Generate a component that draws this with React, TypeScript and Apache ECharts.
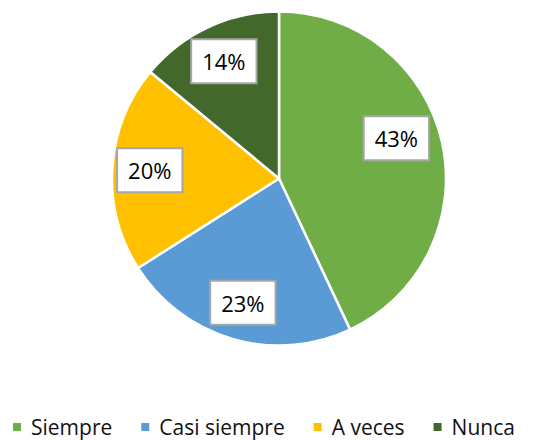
import React, { useEffect, useRef } from "react";
import * as echarts from "echarts";

const categories = ["Siempre", "Casi siempre", "A veces", "Nunca"];
const values = [43, 23, 20, 14];
const colors = ["#70AD47", "#5B9BD5", "#FFC000", "#43682B"];

export default function App() {
  const ref = useRef<HTMLDivElement>(null);
  useEffect(() => {
    document.body.style.margin = "0";
    if (!ref.current) return;
    const chart = echarts.init(ref.current, null, { renderer: "svg" });
    const font = "'Open Sans', 'Noto Sans', sans-serif";
    const data = categories.map((name, i) => ({
      name,
      value: values[i],
      itemStyle: { color: colors[i] },
    }));
    const labelData = categories.map((name, i) => ({
      name,
      value: values[i],
      label: i === 0 ? { offset: [-9, -12] } : {},
    }));
    chart.setOption({
      animation: false,
      color: colors,
      legend: {
        data: categories,
        left: 11,
        top: 416,
        padding: 0,
        icon: "rect",
        itemWidth: 10,
        itemHeight: 10,
        itemGap: 27,
        textStyle: {
          fontFamily: font,
          fontSize: 21,
          color: "#111",
          lineHeight: 22,
          padding: [0, 0, 0, 4],
        },
      },
      series: [
        {
          type: "pie",
          center: [279, 178.5],
          radius: [0, 167],
          startAngle: 90,
          clockwise: true,
          data,
          label: { show: false },
          labelLine: { show: false },
          itemStyle: { borderColor: "#fff", borderWidth: 2.5 },
          emphasis: { disabled: true },
        },
        {
          type: "pie",
          center: [279, 178.5],
          radius: [86, 167],
          startAngle: 90,
          clockwise: true,
          silent: true,
          data: labelData,
          itemStyle: { color: "rgba(0,0,0,0)", borderWidth: 0 },
          labelLine: { show: false },
          label: {
            show: true,
            position: "inside",
            formatter: "{c}%",
            fontFamily: font,
            fontSize: 22,
            lineHeight: 24,
            color: "#000",
            backgroundColor: "#fff",
            borderColor: "#A6A6A6",
            borderWidth: 2,
            padding: [9, 10],
          },
          emphasis: { disabled: true },
        },
      ],
    });
    return () => chart.dispose();
  }, []);
  return <div ref={ref} style={{ width: 559, height: 440 }} />;
}
